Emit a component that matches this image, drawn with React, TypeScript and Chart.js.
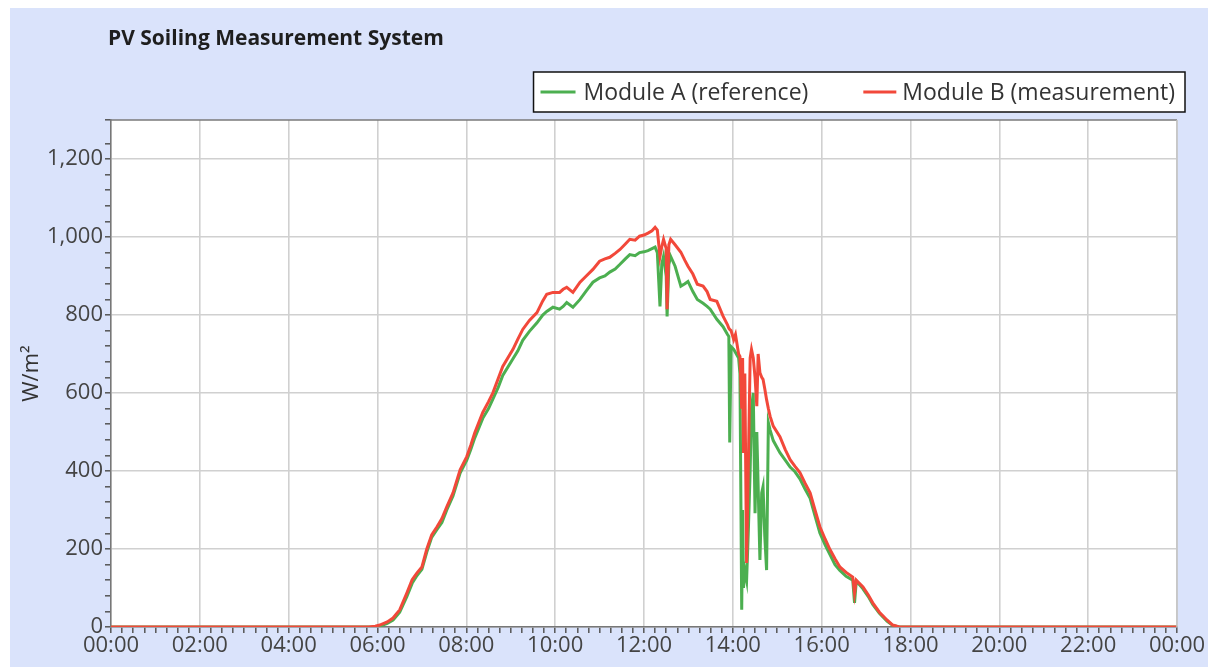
import React, { useEffect, useRef } from "react";
import { Chart, registerables } from "chart.js";

Chart.register(...registerables);

const TITLE = "PV Soiling Measurement System";
const LABEL_A = "Module A (reference)";
const LABEL_B = "Module B (measurement)";
const Y_TITLE = "W/m²";

// time of day in hours
const timeHours = [
  0.0, 5.8, 5.95, 6.05, 6.22, 6.35, 6.5, 6.66, 6.78, 6.89, 7.0, 7.11, 7.22, 7.34, 7.45, 7.56, 7.7, 7.86,
  8.01, 8.1, 8.19, 8.37, 8.5, 8.6, 8.72, 8.82, 9.05, 9.16, 9.27, 9.42, 9.59, 9.72, 9.81, 9.95, 10.1,
  10.18, 10.26, 10.4, 10.56, 10.7, 10.85, 11.0, 11.12, 11.23, 11.35, 11.46, 11.58, 11.68, 11.8, 11.9,
  12.0, 12.09, 12.18, 12.25, 12.3, 12.36, 12.4, 12.44, 12.5, 12.52, 12.56, 12.6, 12.7, 12.83, 12.92,
  12.99, 13.1, 13.2, 13.33, 13.42, 13.49, 13.64, 13.78, 13.88, 13.91, 13.93, 13.96, 14.02, 14.06, 14.13,
  14.16, 14.2, 14.22, 14.24, 14.27, 14.31, 14.35, 14.39, 14.42, 14.46, 14.5, 14.54, 14.57, 14.61, 14.65,
  14.68, 14.72, 14.76, 14.8, 14.84, 14.91, 15.06, 15.18, 15.29, 15.4, 15.51, 15.62, 15.74, 15.85, 15.96,
  16.08, 16.19, 16.3, 16.41, 16.55, 16.7, 16.74, 16.78, 16.93, 17.05, 17.15, 17.3, 17.47, 17.6, 17.75, 24.0,
];

// Module A (reference), W/m²
const moduleA = [
  0, 0, 0, 2, 9, 18, 38, 78, 112, 132, 148, 192, 230, 250, 268, 300, 336, 395,
  428, 455, 485, 535, 560, 585, 615, 645, 688, 708, 735, 758, 780, 800, 809, 820, 815,
  822, 832, 820, 840, 862, 884, 895, 900, 910, 918, 930, 944, 955, 952, 960,
  962, 965, 970, 974, 960, 822, 930, 950, 900, 796, 930, 950, 925, 874, 880,
  886, 860, 840, 830, 822, 815, 789, 770, 750, 745, 473, 719, 712, 704, 690,
  650, 44, 300, 100, 146, 120, 250, 400, 560, 600, 292, 500, 360, 172, 344,
  360, 231, 146, 524, 505, 478, 447, 428, 410, 398, 380, 355, 330, 285, 241,
  210, 185, 160, 145, 130, 120, 62, 118, 98, 78, 58, 35, 15, 4, 0, 0,
];

// Module B (measurement), W/m²
const moduleB = [
  0, 0, 2, 5, 13, 23, 44, 87, 121, 139, 154, 200, 236, 257, 278, 308, 344, 403,
  437, 466, 498, 550, 578, 601, 638, 668, 712, 738, 763, 786, 806, 836, 853, 858, 858,
  866, 871, 858, 884, 900, 917, 938, 944, 948, 958, 968, 982, 994, 992, 1002,
  1005, 1010, 1016, 1025, 1018, 950, 975, 994, 970, 815, 980, 994, 980, 961, 940,
  925, 905, 879, 874, 860, 840, 835, 797, 775, 766, 763, 760, 737, 750, 700,
  694, 560, 690, 446, 650, 164, 420, 690, 712, 690, 640, 566, 700, 652, 640,
  635, 610, 583, 560, 540, 515, 488, 455, 429, 412, 396, 370, 344, 300, 257,
  225, 198, 175, 154, 140, 128, 87, 120, 103, 82, 62, 38, 18, 5, 0, 0,
];

const X_MIN = 0;
const X_MAX = 24;
const X_MINOR_STEP = 0.25;
const X_LABEL_STEP = 2;
const Y_MIN = 0;
const Y_MAX = 1300;
const Y_MINOR_STEP = 40;
const Y_LABEL_STEP = 200;

const COLOR_A = "#4caf50";
const COLOR_B = "#f2483a";
const BG = "#dae3fb";
const FONT = '"Open Sans", "Noto Sans", sans-serif';

const fmtHour = (v: number) => {
  const h = Math.round(v) % 24;
  return (h < 10 ? "0" : "") + h + ":00";
};

const decorPlugin = {
  id: "decor",
  beforeDraw(chart: any) {
    const { ctx, chartArea: a } = chart;
    ctx.save();
    ctx.fillStyle = BG;
    ctx.fillRect(0, 0, chart.width, chart.height);
    ctx.fillStyle = "#ffffff";
    ctx.fillRect(a.left, a.top, a.right - a.left, a.bottom - a.top);
    ctx.restore();
  },
  afterDraw(chart: any) {
    const { ctx, chartArea: a } = chart;
    ctx.save();
    // top and right frame
    ctx.lineWidth = 1.5;
    ctx.strokeStyle = "#7a7a7a";
    ctx.beginPath();
    ctx.moveTo(a.left, a.top);
    ctx.lineTo(a.right, a.top);
    ctx.stroke();
    ctx.strokeStyle = "#c4c4c4";
    ctx.beginPath();
    ctx.moveTo(a.right, a.top);
    ctx.lineTo(a.right, a.bottom);
    ctx.stroke();

    // title
    ctx.fillStyle = "#1e1e1e";
    ctx.font = `bold 21px ${FONT}`;
    ctx.textBaseline = "middle";
    ctx.textAlign = "left";
    ctx.fillText(TITLE, a.left - 3, 31);

    // legend
    ctx.font = `23px ${FONT}`;
    const w1 = ctx.measureText(LABEL_A).width;
    const w2 = ctx.measureText(LABEL_B).width;
    const lineW1 = 35, lineW2 = 33, gapT1 = 8, gapT2 = 6, itemGap = 55, padL = 7, padR = 10;
    const boxRight = a.right + 8;
    const boxW = padL + lineW1 + gapT1 + w1 + itemGap + lineW2 + gapT2 + w2 + padR;
    const boxLeft = boxRight - boxW;
    const boxTop = 64, boxH = 40;
    const cy = boxTop + boxH / 2;
    ctx.fillStyle = "#ffffff";
    ctx.fillRect(boxLeft, boxTop, boxW, boxH);
    ctx.strokeStyle = "#111";
    ctx.lineWidth = 1.5;
    ctx.strokeRect(boxLeft, boxTop, boxW, boxH);
    let x = boxLeft + padL;
    ctx.lineWidth = 3;
    ctx.strokeStyle = COLOR_A;
    ctx.beginPath();
    ctx.moveTo(x, cy);
    ctx.lineTo(x + lineW1, cy);
    ctx.stroke();
    x += lineW1 + gapT1;
    ctx.fillStyle = "#333";
    ctx.fillText(LABEL_A, x, cy + 1);
    x += w1 + itemGap;
    ctx.strokeStyle = COLOR_B;
    ctx.beginPath();
    ctx.moveTo(x, cy);
    ctx.lineTo(x + lineW2, cy);
    ctx.stroke();
    x += lineW2 + gapT2;
    ctx.fillText(LABEL_B, x, cy + 1);
    ctx.restore();
  },
};

export default function App() {
  const ref = useRef<HTMLCanvasElement | null>(null);

  useEffect(() => {
    if (!ref.current) return;
    const toPts = (vals: number[]) => timeHours.map((t, i) => ({ x: t, y: vals[i] }));
    const isMajorX = (v: number) => Math.abs(v / X_LABEL_STEP - Math.round(v / X_LABEL_STEP)) < 1e-9;
    const isMajorY = (v: number) => Math.abs(v % Y_LABEL_STEP) < 1e-9;
    const chart = new Chart(ref.current, {
      type: "line",
      data: {
        datasets: [
          {
            label: LABEL_A,
            data: toPts(moduleA),
            borderColor: COLOR_A,
            backgroundColor: COLOR_A,
            borderWidth: 3,
            pointRadius: 0,
            tension: 0,
            order: 1,
          },
          {
            label: LABEL_B,
            data: toPts(moduleB),
            borderColor: COLOR_B,
            backgroundColor: COLOR_B,
            borderWidth: 3,
            pointRadius: 0,
            tension: 0,
            order: 0,
          },
        ],
      },
      options: {
        animation: false,
        responsive: false,
        layout: { padding: { top: 112, right: 39, bottom: 0, left: 0 } },
        plugins: {
          legend: { display: false },
          title: { display: false },
          tooltip: { enabled: false },
        },
        scales: {
          x: {
            type: "linear",
            min: X_MIN,
            max: X_MAX,
            ticks: {
              stepSize: X_MINOR_STEP,
              autoSkip: false,
              maxRotation: 0,
              minRotation: 0,
              padding: 0,
              color: "#444",
              font: { family: FONT, size: 22 },
              callback: (v: any) => (isMajorX(Number(v)) ? fmtHour(Number(v)) : ""),
            },
            grid: {
              color: (c: any) => (c.tick && isMajorX(c.tick.value) ? "#d0d0d0" : "rgba(0,0,0,0)"),
              lineWidth: 1.6,
              tickLength: 6,
              tickColor: "#555",
              tickWidth: 1.5,
            },
            border: { color: "#777", width: 1.5 },
            afterFit: (s: any) => {
              s.height = 40;
            },
          },
          y: {
            type: "linear",
            min: Y_MIN,
            max: Y_MAX,
            ticks: {
              stepSize: Y_MINOR_STEP,
              autoSkip: false,
              padding: 2,
              color: "#444",
              font: { family: FONT, size: 22 },
              callback: (v: any) => (isMajorY(Number(v)) ? Number(v).toLocaleString("en-US") : ""),
            },
            grid: {
              color: (c: any) => (c.tick && isMajorY(c.tick.value) ? "#d0d0d0" : "rgba(0,0,0,0)"),
              lineWidth: 1.6,
              tickLength: 6,
              tickColor: "#555",
              tickWidth: 1.5,
            },
            border: { color: "#777", width: 1.5 },
            title: {
              display: true,
              text: Y_TITLE,
              color: "#333",
              font: { family: FONT, size: 22 },
              padding: { top: 9, bottom: 0 },
            },
            afterFit: (s: any) => {
              s.width = 101;
            },
          },
        },
      },
      plugins: [decorPlugin],
    } as any);
    return () => chart.destroy();
  }, []);

  return (
    <div style={{ paddingLeft: 2 }}>
      <canvas ref={ref} width={1206} height={659} style={{ display: "block" }} />
    </div>
  );
}
